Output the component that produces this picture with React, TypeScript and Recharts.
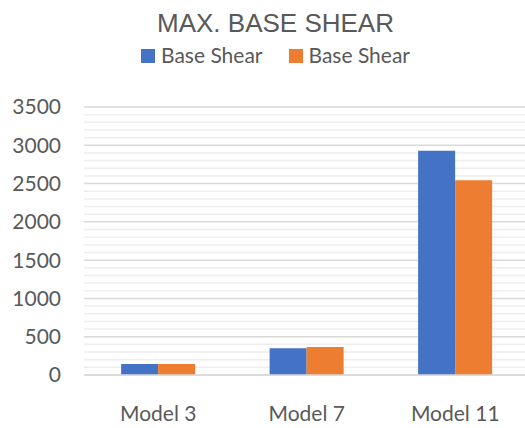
import React from 'react';
import { BarChart, Bar, XAxis, YAxis, CartesianGrid, Legend } from 'recharts';

const categories = ['Model 3', 'Model 7', 'Model 11'];
const baseShearA = [145, 350, 2930];
const baseShearB = [145, 365, 2545];
const yTicks = [0, 500, 1000, 1500, 2000, 2500, 3000, 3500];
const minorTicks = [100, 200, 300, 400, 600, 700, 800, 900, 1100, 1200, 1300, 1400, 1600, 1700, 1800, 1900, 2100, 2200, 2300, 2400, 2600, 2700, 2800, 2900, 3100, 3200, 3300, 3400];
const seriesNames = ['Base Shear', 'Base Shear'];
const seriesColors = ['#4472C4', '#ED7D31'];
const title = 'MAX. BASE SHEAR';
const yMax = 3500;

const data = categories.map((c, i) => ({ name: c, a: baseShearA[i], b: baseShearB[i] }));

const W = 551;
const textColor = '#595959';

const LegendContent = (props: any) => {
  const payload = props.payload || [];
  return (
    <div style={{ position: 'relative', width: W, height: 107 }}>
      <div
        style={{
          position: 'absolute',
          top: 10,
          left: 0,
          width: W,
          textAlign: 'center',
          fontFamily: '"Liberation Sans", Arial, sans-serif',
          fontSize: 26,
          lineHeight: '26px',
          color: textColor,
        }}
      >
        {title}
      </div>
      <div
        style={{
          position: 'absolute',
          top: 44,
          left: 0,
          width: W,
          display: 'flex',
          justifyContent: 'center',
          fontFamily: 'Lato, sans-serif',
          fontSize: 21,
          lineHeight: '21px',
          color: textColor,
        }}
      >
        {payload.map((p: any, i: number) => (
          <div key={i} style={{ display: 'flex', alignItems: 'flex-start', marginLeft: i === 0 ? 0 : 26 }}>
            <div style={{ width: 14, height: 14, background: p.color, marginTop: 5, marginRight: 6 }} />
            <span>{p.value}</span>
          </div>
        ))}
      </div>
    </div>
  );
};

const minorGen = (args: any) => {
  const ys = args && args.yAxis;
  if (ys && typeof ys.scale === 'function') return minorTicks.map((v) => ys.scale(v));
  const off = (args && args.offset) || {};
  const top = off.top ?? 107;
  const h = off.height ?? 268;
  return minorTicks.map((v) => top + h * (1 - v / yMax));
};

export default function App() {
  return (
    <div style={{ position: 'fixed', left: 0, top: 0, width: 525, height: 428, overflow: 'hidden', background: '#fff' }}>
      <BarChart
        width={W}
        height={428}
        data={data}
        margin={{ top: 0, right: 21.5, bottom: 23, left: 0 }}
        barCategoryGap="25%"
        barGap={0}
      >
        <Legend verticalAlign="top" wrapperStyle={{ left: 0, top: 0, width: W }} content={<LegendContent />} />
        <CartesianGrid vertical={false} stroke="#eeeeee" strokeWidth={1.5} horizontalCoordinatesGenerator={minorGen} />
        <CartesianGrid vertical={false} stroke="#d9d9d9" strokeWidth={1.5} />
        <XAxis
          dataKey="name"
          axisLine={{ stroke: '#d9d9d9', strokeWidth: 1.5 }}
          tickLine={false}
          tickSize={6}
          tickMargin={25}
          tick={{ fill: textColor, fontSize: 21, fontFamily: 'Lato, sans-serif' }}
        />
        <YAxis
          width={84}
          domain={[0, yMax]}
          ticks={yTicks}
          axisLine={false}
          tickLine={false}
          tickSize={6}
          tickMargin={17}
          interval={0}
          tick={{ fill: textColor, fontSize: 21, fontFamily: 'Lato, sans-serif' }}
        />
        <Bar dataKey="a" name={seriesNames[0]} fill={seriesColors[0]} isAnimationActive={false} />
        <Bar dataKey="b" name={seriesNames[1]} fill={seriesColors[1]} isAnimationActive={false} />
      </BarChart>
    </div>
  );
}
